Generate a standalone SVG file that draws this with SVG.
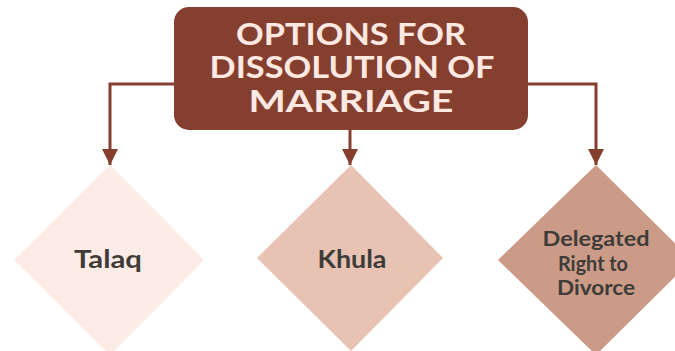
<svg xmlns="http://www.w3.org/2000/svg" width="675" height="351" viewBox="0 0 675 351">
<defs>
<marker id="ah" viewBox="0 0 10 10" refX="10" refY="5" markerWidth="5.5" markerHeight="5.5" orient="auto" markerUnits="strokeWidth">
<path d="M0,0 L10,5 L0,10 Z" fill="#843f2e"/>
</marker>
<style>
.conn{fill:none;stroke:#843f2e;stroke-width:3;marker-end:url(#ah)}
.title{font-family:Lato,"Open Sans",sans-serif;font-weight:700;font-size:30px;fill:#fde9e2;text-anchor:middle}
.lbl{font-family:Lato,"Open Sans",sans-serif;font-weight:700;font-size:25px;fill:#3d3c39;text-anchor:middle}
.lbl2{font-family:Lato,"Open Sans",sans-serif;font-weight:700;font-size:21px;fill:#3d3c39;text-anchor:middle}
</style>
</defs>
<rect width="675" height="351" fill="#ffffff"/>
<g id="connectors">
<path class="conn" d="M174,84 H110 V165"/>
<path class="conn" d="M350,130 V165"/>
<path class="conn" d="M528,84 H596 V165"/>
</g>
<g id="root">
<rect x="174" y="7" width="354" height="123" rx="15" fill="#853f2f"/>
<text class="title" x="351" y="45" textLength="230" lengthAdjust="spacingAndGlyphs">OPTIONS FOR</text>
<text class="title" x="352" y="78" textLength="285" lengthAdjust="spacingAndGlyphs">DISSOLUTION OF</text>
<text class="title" x="351" y="112" textLength="205" lengthAdjust="spacingAndGlyphs">MARRIAGE</text>
</g>
<g id="talaq">
<polygon points="110,165 204,260 110,355 14,260" fill="#fdebe5"/>
<text class="lbl" x="108" y="268" textLength="68" lengthAdjust="spacingAndGlyphs">Talaq</text>
</g>
<g id="khula">
<polygon points="351,165 443,258 351,351 257,258" fill="#e8c3b3"/>
<text class="lbl" x="352" y="268" textLength="69" lengthAdjust="spacingAndGlyphs">Khula</text>
</g>
<g id="delegated">
<polygon points="596,165 692,260 596,355 498,260" fill="#cc9b87"/>
<text class="lbl2" x="596" y="246" textLength="107" lengthAdjust="spacingAndGlyphs">Delegated</text>
<text class="lbl2" x="593" y="271" textLength="70" lengthAdjust="spacingAndGlyphs">Right to</text>
<text class="lbl2" x="596" y="295" textLength="78" lengthAdjust="spacingAndGlyphs">Divorce</text>
</g>
</svg>
